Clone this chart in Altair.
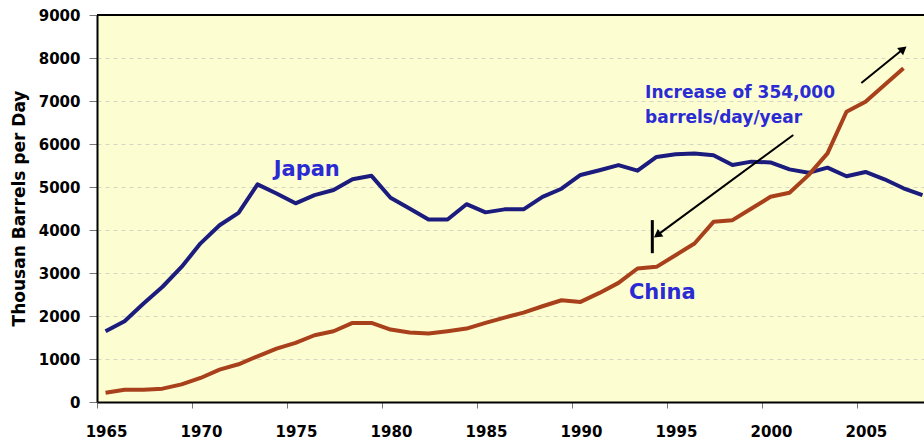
import altair as alt
import pandas as pd

years = list(range(1965, 2009))
japan = [1645, 1880, 2290, 2680, 3140, 3690, 4110, 4400, 5060, 4850,
         4620, 4810, 4930, 5180, 5260, 4750, 4500, 4245, 4245, 4600,
         4410, 4480, 4480, 4770, 4960, 5280, 5390, 5510, 5380, 5700,
         5760, 5780, 5740, 5510, 5590, 5570, 5410, 5330, 5450, 5250,
         5350, 5180, 4970, 4810]
china_years = list(range(1965, 2008))
china = [217, 287, 287, 310, 411, 559, 753, 877, 1063, 1242,
         1374, 1552, 1645, 1839, 1839, 1684, 1614, 1591, 1645, 1707,
         1839, 1963, 2080, 2227, 2367, 2328, 2537, 2770, 3104, 3143,
         3414, 3686, 4190, 4229, 4500, 4772, 4865, 5277, 5781, 6751,
         6984, 7372, 7760]

x_ticks = [1965, 1970, 1975, 1980, 1985, 1990, 1995, 2000, 2005]
y_ticks = [0, 1000, 2000, 3000, 4000, 5000, 6000, 7000, 8000, 9000]
y_title = "Thousan Barrels per Day"

# annotations (data units)
big_labels = ["Japan", "China"]
big_x = [1974.3, 1993.0]
big_y = [5400, 2530]
note_labels = ["Increase of 354,000", "barrels/day/year"]
note_x = [1993.85, 1993.85]
note_y = [7190, 6600]
arrow_x1 = [2001.65, 2005.23]
arrow_y1 = [6208, 7417]
arrow_x2 = [1994.49, 2007.44]
arrow_y2 = [3880, 8208]
arrow_angle = [234, 51]
bar_x = [1994.23]
bar_y1 = [4230]
bar_y2 = [3461]

df = pd.DataFrame({
    "year": years + china_years,
    "value": japan + china,
    "country": ["Japan"] * len(years) + ["China"] * len(china_years),
})

xscale = alt.Scale(domain=[1965, 2008.53], nice=False, zero=False)
yscale = alt.Scale(domain=[0, 9000], nice=False)

lines = alt.Chart(df).transform_calculate(
    xpos="datum.year + 0.45"
).mark_line(strokeWidth=4, strokeJoin="round").encode(
    x=alt.X("xpos:Q", scale=xscale, title=None,
            axis=alt.Axis(values=x_ticks, format="d", labelFlush=False,
                          labelOffset=9)),
    y=alt.Y("value:Q", scale=yscale, title=y_title,
            axis=alt.Axis(values=y_ticks, format="d", labelFlush=False)),
    color=alt.Color("country:N",
                    scale=alt.Scale(domain=["Japan", "China"],
                                    range=["#1c1c7e", "#a8411b"]),
                    legend=None),
)

top_df = pd.DataFrame({"v": [9000]})
top = alt.Chart(top_df).mark_rule(color="black", strokeWidth=2).encode(
    y=alt.Y("v:Q", scale=yscale, title=y_title)
)

big_df = pd.DataFrame({"x": big_x, "y": big_y, "t": big_labels})
big = alt.Chart(big_df).mark_text(
    align="left", baseline="middle", font="DejaVu Sans", fontWeight="bold",
    fontSize=21, color="#2b2bd4"
).encode(
    x=alt.X("x:Q", scale=xscale, title=None),
    y=alt.Y("y:Q", scale=yscale, title=y_title),
    text="t:N",
)

note_df = pd.DataFrame({"x": note_x, "y": note_y, "t": note_labels})
note = alt.Chart(note_df).mark_text(
    align="left", baseline="middle", font="DejaVu Sans", fontWeight="bold",
    fontSize=17, color="#2b2bd4"
).encode(
    x=alt.X("x:Q", scale=xscale, title=None),
    y=alt.Y("y:Q", scale=yscale, title=y_title),
    text="t:N",
)

arr_df = pd.DataFrame({"x1": arrow_x1, "y1": arrow_y1, "x2": arrow_x2,
                       "y2": arrow_y2, "ang": arrow_angle})
arr_lines = alt.Chart(arr_df).mark_rule(color="black", strokeWidth=2).encode(
    x=alt.X("x1:Q", scale=xscale, title=None),
    y=alt.Y("y1:Q", scale=yscale, title=y_title),
    x2="x2:Q",
    y2="y2:Q",
)
arr_heads = alt.Chart(arr_df).mark_point(
    shape="triangle-up", filled=True, color="black", size=90, opacity=1
).encode(
    x=alt.X("x2:Q", scale=xscale, title=None),
    y=alt.Y("y2:Q", scale=yscale, title=y_title),
    angle=alt.Angle("ang:Q", scale=None),
)

bar_df = pd.DataFrame({"x": bar_x, "y1": bar_y1, "y2": bar_y2})
bar = alt.Chart(bar_df).mark_rule(color="black", strokeWidth=3).encode(
    x=alt.X("x:Q", scale=xscale, title=None),
    y=alt.Y("y1:Q", scale=yscale, title=y_title),
    y2="y2:Q",
)

chart = alt.layer(lines, top, arr_lines, arr_heads, bar, big, note).properties(
    width=827, height=387,
    autosize=alt.AutoSizeParams(type="none"),
    padding={"left": 97, "top": 15, "right": 0, "bottom": 43},
    background="white",
).configure_view(
    fill="#fdfdd2", stroke=None
).configure_axis(
    labelFont="DejaVu Sans", labelFontWeight="bold", labelFontSize=15,
    labelColor="black",
    titleFont="DejaVu Sans", titleFontWeight="bold", titleFontSize=17,
    titleColor="black",
    domainColor="black", domainWidth=2,
    tickColor="#777777", tickWidth=1,
).configure_axisY(
    grid=True, gridColor="#d6d6c2", gridDash=[4, 4], gridWidth=1,
    tickSize=8, labelPadding=9,
    titleX=-78, titleY=193, titleAngle=270, titleAlign="center",
    titleBaseline="middle",
).configure_axisX(
    grid=False, tickSize=6, labelPadding=16,
)

chart.save("out.html", embed_options={"renderer": "svg", "actions": False})
